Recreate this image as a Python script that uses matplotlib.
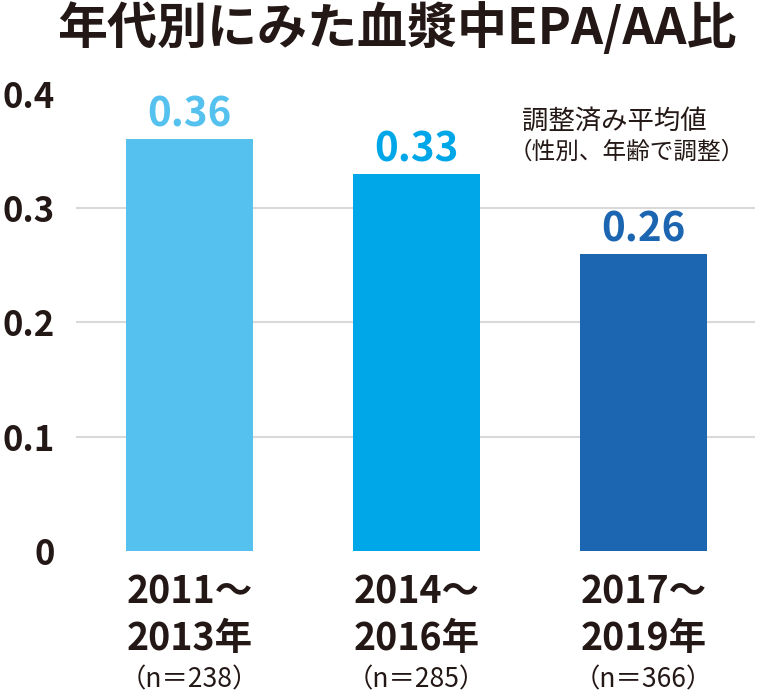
import matplotlib
matplotlib.use("Agg")
import matplotlib.pyplot as plt

plt.rcParams['font.family'] = ['Noto Sans CJK JP', 'DejaVu Sans']

title = "年代別にみた血漿中EPA/AA比"
periods_line1 = ["2011～", "2014～", "2017～"]
periods_line2 = ["2013年", "2016年", "2019年"]
sample_sizes = ["（n＝238）", "（n＝285）", "（n＝366）"]
values = [0.36, 0.33, 0.26]
value_labels = ["0.36", "0.33", "0.26"]
colors = ["#55C1EF", "#00A7E8", "#1C65B0"]
yticks = [0, 0.1, 0.2, 0.3, 0.4]
ytick_labels = ["0", "0.1", "0.2", "0.3", "0.4"]
note_line1 = "調整済み平均値"
note_line2 = "（性別、年齢で調整）"

TXT = "#231815"

fig = plt.figure(figsize=(7.61, 6.93), dpi=100)
ax = fig.add_axes([76/761, 1-551/693, (755-76)/761, (551-93.5)/693])

x = list(range(len(values)))
ax.bar(x, values, width=0.56, color=colors, zorder=3)
ax.set_xlim(-0.5, 2.49)
ax.set_ylim(0, 0.4)

for yv in [0.1, 0.2, 0.3]:
    ax.axhline(yv, color="#D9D9D9", lw=1.5, zorder=1)

for s in ax.spines.values():
    s.set_visible(False)
ax.set_xticks([])
ax.set_yticks(yticks)
ax.set_yticklabels(ytick_labels, fontsize=25, fontweight="bold", color=TXT)
ax.tick_params(axis="y", length=0, pad=15)

for xi, v, lab, c in zip(x, values, value_labels, colors):
    ax.text(xi, v + 0.003, lab, ha="center", va="bottom", fontsize=29,
            fontweight="bold", color=c)

tr = ax.get_xaxis_transform()
for xi, l1, l2, n in zip(x, periods_line1, periods_line2, sample_sizes):
    ax.text(xi, -0.09, l1, transform=tr, ha="center", va="center",
            fontsize=27, fontweight="bold", color=TXT)
    ax.text(xi, -0.192, l2, transform=tr, ha="center", va="center",
            fontsize=27, fontweight="bold", color=TXT)
    ax.text(xi, -0.282, n, transform=tr, ha="center", va="center",
            fontsize=19, color=TXT)

fig.text(522/761, 1-121/693, note_line1, ha="left", va="center", fontsize=19,
         color=TXT)
fig.text(509/761, 1-152/693, note_line2, ha="left", va="center", fontsize=17,
         color=TXT)

fig.text(397/761, 1-29/693, title, ha="center", va="center", fontsize=36,
         fontweight="bold", color=TXT)

fig.savefig("out.png", dpi=100)
